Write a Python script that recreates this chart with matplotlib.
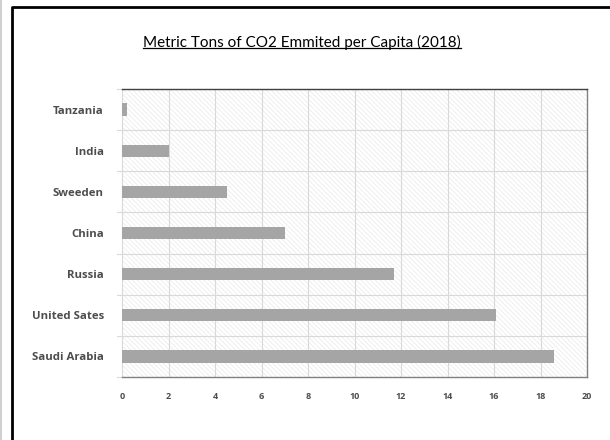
import matplotlib
matplotlib.use("Agg")
import matplotlib.pyplot as plt
from matplotlib.lines import Line2D
from matplotlib.patches import Rectangle
import numpy as np

# CO2 emissions per capita, metric tons (2018)
countries = ["Saudi Arabia", "United Sates", "Russia", "China", "Sweeden", "India", "Tanzania"]
tons = [18.6, 16.1, 11.7, 7.0, 4.5, 2.0, 0.2]
x_ticks = [0, 2, 4, 6, 8, 10, 12, 14, 16, 18, 20]

title = "Metric Tons of CO2 Emmited per Capita (2018)"
title_font = "Lato"
label_font = "Open Sans"
label_color = "#4d4d4d"
bar_color = "#a5a5a5"
grid_color = "#d9d9d9"

plt.rcParams["hatch.linewidth"] = 0.4

fig = plt.figure(figsize=(6.1, 4.4), dpi=100)
ax = fig.add_axes([122 / 610, 1 - 377 / 440, 465 / 610, 288 / 440])

# hatched plot background
ax.patch.set_facecolor("white")
bg = Rectangle((0, 0), 1, 1, transform=ax.transAxes, facecolor="white",
               edgecolor="#e4e4e4", hatch="\\\\\\\\\\\\\\", linewidth=0, zorder=0)
ax.add_patch(bg)

y = np.arange(len(countries))
ax.barh(y, tons, height=0.3, color=bar_color, zorder=3)

ax.set_xlim(0, 20)
ax.set_ylim(-0.5, len(countries) - 0.5)
ax.set_xticks(x_ticks)
ax.set_xticklabels([str(t) for t in x_ticks], fontsize=6.5, fontweight="bold",
                   color=label_color, family=label_font)
ax.set_yticks(y)
ax.set_yticklabels(countries, fontsize=8.2, fontweight="bold", color=label_color,
                   family=label_font)
ax.tick_params(axis="x", length=0, pad=11)
ax.tick_params(axis="y", length=0, pad=13)

# gridlines: vertical at each tick, horizontal between categories
for t in x_ticks[1:-1]:
    ax.axvline(t, color=grid_color, linewidth=0.8, zorder=1)
for b in np.arange(0.5, len(countries) - 0.5, 1):
    ax.axhline(b, color=grid_color, linewidth=0.8, zorder=1)
for b in np.arange(-0.5, len(countries), 1):
    ax.plot([-0.2, 0], [b, b], color=grid_color, linewidth=0.8, clip_on=False)

ax.spines["left"].set_color(grid_color)
ax.spines["left"].set_linewidth(0.8)
ax.spines["top"].set_color("#404040")
ax.spines["right"].set_color("#808080")
ax.spines["bottom"].set_color("#808080")
for s in ["top", "right", "bottom"]:
    ax.spines[s].set_linewidth(1.0)

# underlined title
txt = fig.text(302 / 610, 1 - 42 / 440, title, ha="center", va="center",
               fontsize=11.0, family=title_font, color="black")
fig.canvas.draw()
bb = txt.get_window_extent().transformed(fig.transFigure.inverted())
fig.add_artist(Line2D([bb.x0, bb.x1], [bb.y0 + 0.004, bb.y0 + 0.004],
                      transform=fig.transFigure, color="black", linewidth=0.9))

# outer frame
fig.add_artist(Line2D([12 / 610, 12 / 610, 1.0], [0.0, 1 - 7 / 440, 1 - 7 / 440],
                      transform=fig.transFigure, color="black", linewidth=2.0))
fig.add_artist(Rectangle((0, 0), 2 / 610, 1, transform=fig.transFigure,
                         facecolor="#d0d0d0", edgecolor="none"))

fig.savefig("out.png", dpi=100)
